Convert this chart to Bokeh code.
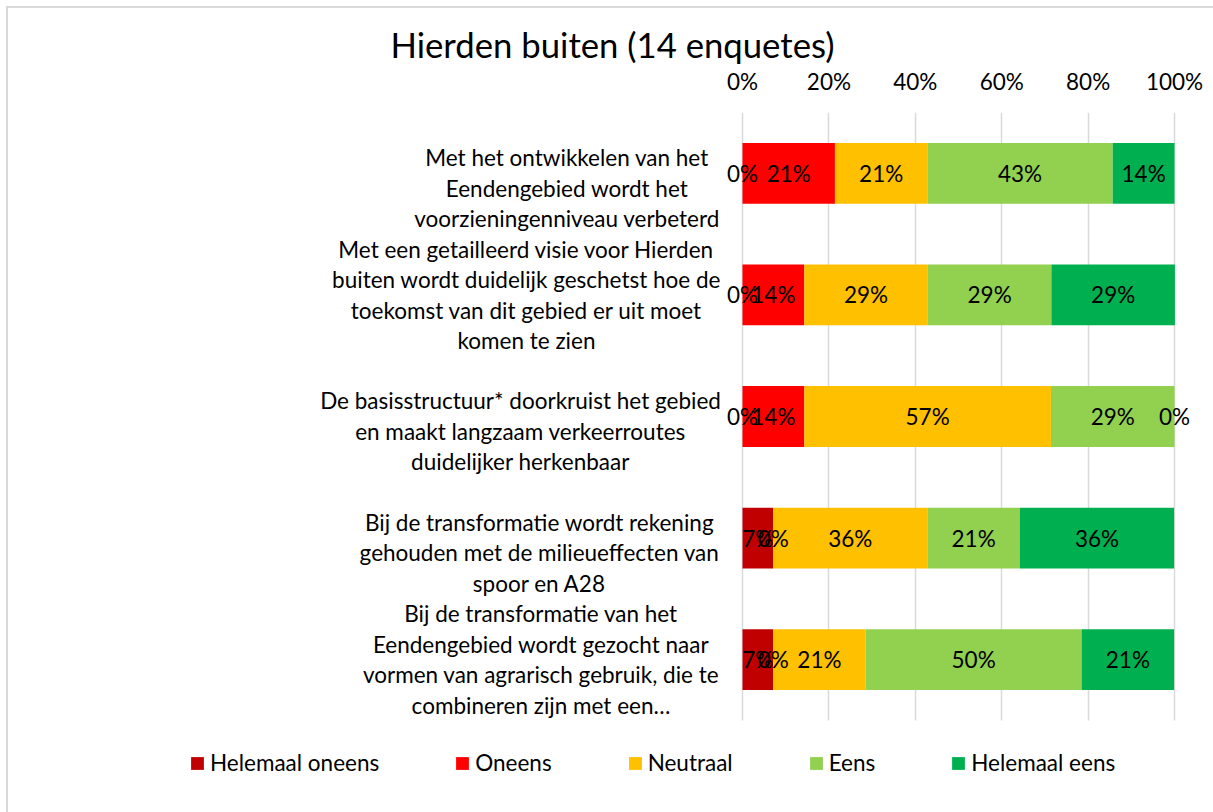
from bokeh.plotting import figure
from bokeh.models import (ColumnDataSource, Range1d, FixedTicker,
                          PrintfTickFormatter, Legend, LegendItem)
from bokeh.embed import file_html
from bokeh.resources import INLINE
from bokeh.core.properties import value

# ---------------- data ----------------
title = "Hierden buiten (14 enquetes)"
categories = [
    "Met het ontwikkelen van het\nEendengebied wordt het\nvoorzieningenniveau verbeterd",
    "Met een getailleerd visie voor Hierden\nbuiten wordt duidelijk geschetst hoe de\ntoekomst van dit gebied er uit moet\nkomen te zien",
    "De basisstructuur* doorkruist het gebied\nen maakt langzaam verkeerroutes\nduidelijker herkenbaar",
    "Bij de transformatie wordt rekening\ngehouden met de milieueffecten van\nspoor en A28",
    "Bij de transformatie van het\nEendengebied wordt gezocht naar\nvormen van agrarisch gebruik, die te\ncombineren zijn met een…",
]
series = ["Helemaal oneens", "Oneens", "Neutraal", "Eens", "Helemaal eens"]
helemaal_oneens = [0.0, 0.0, 0.0, 7.1, 7.1]
oneens = [21.4, 14.3, 14.3, 0.0, 0.0]
neutraal = [21.4, 28.6, 57.1, 35.7, 21.4]
eens = [42.9, 28.6, 28.6, 21.4, 50.0]
helemaal_eens = [14.3, 28.6, 0.0, 35.7, 21.4]
x_ticks = [0, 20, 40, 60, 80, 100]
colors = ["#C00000", "#FF0000", "#FFC000", "#92D050", "#00B050"]

values = [helemaal_oneens, oneens, neutraal, eens, helemaal_eens]

# ---------------- layout ----------------
FONT = "Lato"
FS = "22.5px"
W, H = 1205, 804
TOP = 104                   # canvas y of the plot area top
LEFT = 80                   # frame left (canvas px)
FRAME_W = W - LEFT
FRAME_H = H - TOP           # frame runs to the bottom (legend lives inside)
ROW_PX = 121.6              # height of one category slot
PX_PER_UNIT = 4.32          # 100% = 432 px
ZERO_PX = 734               # canvas x of 0% (page x 742)
x_start = -(ZERO_PX - LEFT) / PX_PER_UNIT
x_end = (W - ZERO_PX) / PX_PER_UNIT
n = len(categories)
y_end = n
y_start = n - FRAME_H / ROW_PX
ypos = [n - 0.5 - i for i in range(n)]   # first category on top

p = figure(frame_width=FRAME_W, frame_height=FRAME_H,
           output_backend="svg", toolbar_location=None,
           x_range=Range1d(x_start, x_end),
           y_range=Range1d(y_start, y_end),
           x_axis_location="above", y_axis_location=None,
           min_border_left=LEFT, min_border_right=0,
           min_border_top=TOP, min_border_bottom=0)
p.outline_line_color = None
p.background_fill_color = "white"
p.border_fill_color = "white"
p.styles = {"margin-left": "8px", "margin-top": "8px",
            "outline": "2px solid #d9d9d9"}

p.title.text = title
p.title.align = "left"
p.title.offset = 302
p.title.text_font = FONT
p.title.text_font_size = "34.7px"
p.title.text_font_style = "normal"
p.title.text_color = "#000000"
p.title.standoff = 0

ax = p.xaxis[0]
ax.ticker = FixedTicker(ticks=x_ticks)
ax.formatter = PrintfTickFormatter(format="%d%%")
ax.bounds = (0, 100)
ax.axis_line_color = None
ax.major_tick_line_color = None
ax.minor_tick_line_color = None
ax.major_label_text_font = FONT
ax.major_label_text_font_size = FS
ax.major_label_text_color = "#000000"
ax.major_label_standoff = 12

p.xgrid.ticker = FixedTicker(ticks=x_ticks)
p.xgrid.grid_line_color = "#d9d9d9"
p.xgrid.grid_line_width = 1.5
p.xgrid.cross_bounds = (0, n)
p.ygrid.visible = False

# ---------------- bars ----------------
renderers = []
cum = [0.0] * n
for name, vals, col in zip(series, values, colors):
    left = cum[:]
    right = [a + b for a, b in zip(cum, vals)]
    src = ColumnDataSource(dict(y=ypos, left=left, right=right))
    r = p.hbar(y="y", left="left", right="right", height=0.5, source=src,
               fill_color=col, line_color=None)
    renderers.append(r)
    cum = right

# data labels
cum = [0.0] * n
for vals in values:
    centers = [c + v / 2 for c, v in zip(cum, vals)]
    labels = ["%d%%" % int(round(v)) for v in vals]
    src = ColumnDataSource(dict(x=centers, y=ypos, t=labels))
    p.text(x="x", y="y", text="t", source=src, text_align="center",
           text_baseline="middle", text_font=value(FONT),
           text_font_size=FS, text_color="#000000")
    cum = [a + b for a, b in zip(cum, vals)]

# category labels (centered lines, block ending left of the 0% line)
label_centers_px = [-175.5, -216, -222, -203, -201.5]
line_h = 29.5
nlines = [c.count("\n") + 1 for c in categories]
y_offs = [(4 - k) * line_h / 2 for k in nlines]
src = ColumnDataSource(dict(x=[0] * n, y=ypos, t=categories,
                            xo=label_centers_px, yo=y_offs))
p.text(x="x", y="y", text="t", x_offset="xo", y_offset="yo", source=src,
       text_align="center", text_baseline="middle", text_font=value(FONT),
       text_font_size=FS, text_color="#000000", text_line_height=1.13)

# ---------------- legend ----------------
legend = Legend(items=[LegendItem(label=s, renderers=[r]) for s, r in zip(series, renderers)],
                orientation="horizontal", location=(101, 36),
                glyph_width=16, glyph_height=16, label_standoff=5, spacing=75,
                padding=0, margin=0, border_line_color=None,
                background_fill_alpha=0,
                label_text_font=FONT, label_text_font_size=FS,
                label_text_color="#000000")
p.add_layout(legend, "center")

open("out.html", "w").write(file_html(p, INLINE))
